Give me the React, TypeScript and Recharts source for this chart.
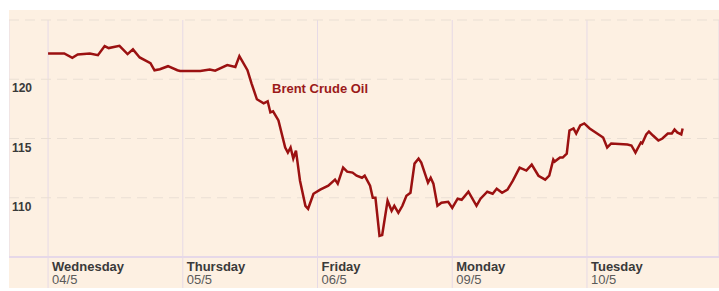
import { LineChart, Line, XAxis, YAxis, CartesianGrid, ReferenceLine } from "recharts";

// trading time in days since Wednesday 04/5 00:00
const dayPos = [
  0, 0.12, 0.18, 0.22, 0.31, 0.37, 0.42, 0.45, 0.53, 0.59, 0.63, 0.68, 0.76, 0.79, 0.83, 0.89, 0.96,
  0.98, 1.13, 1.2, 1.24, 1.33, 1.39, 1.42, 1.48, 1.51, 1.55, 1.6, 1.63, 1.65, 1.67, 1.71, 1.76, 1.78,
  1.8, 1.82, 1.84, 1.87, 1.91, 1.93, 1.97, 2.02, 2.08, 2.13, 2.15, 2.19, 2.22, 2.26, 2.29, 2.33, 2.35,
  2.39, 2.41, 2.43, 2.46, 2.48, 2.52, 2.55, 2.57, 2.6, 2.63, 2.66, 2.69, 2.72, 2.75, 2.77, 2.82, 2.84,
  2.86, 2.89, 2.92, 2.97, 3.0, 3.04, 3.07, 3.12, 3.18, 3.21, 3.26, 3.3, 3.33, 3.37, 3.41, 3.45, 3.5,
  3.55, 3.59, 3.64, 3.69, 3.72, 3.75, 3.76, 3.8, 3.82, 3.85, 3.87, 3.9, 3.92, 3.95, 3.98, 4.02, 4.12,
  4.15, 4.18, 4.3, 4.33, 4.36, 4.38, 4.4, 4.41, 4.44, 4.46, 4.49, 4.53, 4.56, 4.6, 4.63, 4.65, 4.67,
  4.7, 4.71,
];

const brent = [
  122.18, 122.18, 121.81, 122.09, 122.18, 122.03, 122.8, 122.63, 122.82, 122.12, 122.52, 121.84, 121.36,
  120.76, 120.85, 121.1, 120.76, 120.7, 120.7, 120.82, 120.72, 121.19, 121.04, 121.95, 120.76, 119.66,
  118.31, 117.97, 118.14, 117.2, 117.29, 116.53, 114.24, 113.81, 114.24, 113.31, 113.98, 111.44, 109.32,
  109.07, 110.34, 110.68, 111.02, 111.53, 111.19, 112.54, 112.2, 112.12, 111.86, 111.69, 111.86, 111.02,
  110.0, 110.0, 106.78, 106.86, 109.75, 108.9, 109.32, 108.73, 109.32, 110.17, 110.42, 112.88, 113.31,
  112.97, 111.27, 111.69, 111.19, 109.32, 109.58, 109.66, 109.15, 109.92, 109.83, 110.51, 109.32, 109.92,
  110.51, 110.34, 110.76, 110.42, 110.68, 111.44, 112.54, 112.29, 112.8, 111.86, 111.53, 111.86, 113.22,
  113.05, 113.39, 113.39, 113.73, 115.68, 115.85, 115.42, 116.1, 116.27, 115.85, 115.08, 114.24, 114.58,
  114.49, 114.41, 113.81, 114.24, 114.66, 114.58, 115.34, 115.59, 115.25, 114.83, 115.0, 115.42, 115.42,
  115.76, 115.51, 115.34, 115.85,
];

const dayTicks = [0, 1, 2, 3, 4];
const dayNames = ["Wednesday", "Thursday", "Friday", "Monday", "Tuesday"];
const dayDates = ["04/5", "05/5", "06/5", "09/5", "10/5"];
const priceTicks = [110, 115, 120];

const data = dayPos.map((d, i) => ({ t: d, price: brent[i] }));

const W = 710;
const H = 278;
const FONT = "'Liberation Sans', Arial, sans-serif";

const DayTick = (props: any) => {
  const { x, y, index } = props;
  return (
    <g>
      <line x1={x} x2={x} y1={y - 8} y2={H} stroke="#e6dae6" strokeWidth={1} />
      <text x={x + 4} y={y + 6} fontFamily={FONT} fontSize={13} fontWeight="bold" fill="#3a3a3a">
        {dayNames[index]}
      </text>
      <text x={x + 4} y={y + 19} fontFamily={FONT} fontSize={13} fill="#5a5a5a">
        {dayDates[index]}
      </text>
    </g>
  );
};

const priceLabel = (v: number) => (props: any) => {
  const { viewBox } = props;
  return (
    <text x={3} y={viewBox.y + 13} fontFamily={FONT} fontSize={12} fontWeight="bold" fill="#3a3a3a">
      {v}
    </text>
  );
};

export default function App() {
  return (
    <div
      style={{
        position: "absolute",
        left: 9,
        top: 10,
        width: W,
        height: H,
        background: "#fdf0e2",
      }}
    >
      <LineChart width={W} height={H} data={data} margin={{ top: 10, right: 0, bottom: 0, left: 0 }}>
        <CartesianGrid horizontal={false} vertical={true} stroke="#e6dae6" />
        <CartesianGrid horizontal={true} vertical={false} stroke="#eadfd4" strokeDasharray="10 6" />
        <XAxis
          dataKey="t"
          type="number"
          domain={[-0.29, 4.98]}
          ticks={dayTicks}
          height={31}
          tickLine={false}
          axisLine={{ stroke: "#e6d8e8", strokeWidth: 2 }}
          tick={<DayTick />}
          interval={0}
        />
        <YAxis type="number" domain={[105, 125]} ticks={priceTicks} hide />
        {priceTicks.map((v) => (
          <ReferenceLine key={v} y={v} stroke="none" label={priceLabel(v)} />
        ))}
        <Line
          type="linear"
          dataKey="price"
          stroke="#9b1111"
          strokeWidth={2.5}
          dot={false}
          isAnimationActive={false}
        />
      </LineChart>
      <div
        style={{
          position: "absolute",
          left: 263,
          top: 71,
          fontFamily: FONT,
          fontSize: 13,
          fontWeight: "bold",
          color: "#9b1a1a",
          lineHeight: "16px",
          whiteSpace: "nowrap",
        }}
      >
        Brent Crude Oil
      </div>
    </div>
  );
}
